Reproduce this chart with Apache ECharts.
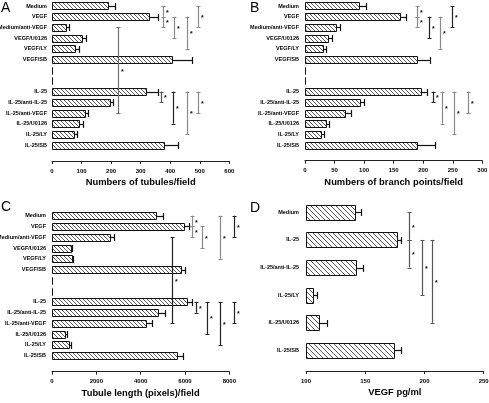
<!DOCTYPE html>
<html><head><meta charset="utf-8">
<script src="https://cdn.jsdelivr.net/npm/echarts@6/dist/echarts.min.js"></script>
<style>html,body{margin:0;padding:0;background:#fff}#c{width:489px;height:403px}</style>
</head><body><div id="c"></div>
<script>
// ---------- data ----------
const categoriesABC = ['Medium','VEGF','Medium/anti-VEGF','VEGF/U0126','VEGF/LY','VEGF/SB',' ','  ','IL-25','IL-25/anti-IL-25','IL-25/anti-VEGF','IL-25/U0126','IL-25/LY','IL-25/SB'];
const tubulesMean = [190, 327, 46, 100, 78, 407, 0, 0, 317, 195, 110, 92, 76, 378];
const tubulesSem  = [24, 32, 13, 15, 12, 66, 0, 0, 42, 13, 13, 13, 10, 49];
const branchMean  = [92, 161, 52, 39, 31, 190, 0, 0, 196, 93, 67, 36, 27, 189];
const branchSem   = [11, 10, 8, 7, 4, 21, 0, 0, 10, 7, 11, 5, 5, 31];
const lengthMean  = [4710, 5950, 2630, 840, 890, 5800, 0, 0, 6080, 4800, 4226, 590, 767, 5656];
const lengthSem   = [300, 240, 170, 75, 75, 210, 0, 0, 240, 315, 270, 100, 75, 257];
const categoriesD = ['Medium','IL-25','IL-25/anti-IL-25','IL-25/LY','IL-25/U0126','IL-25/SB'];
const vegfMean    = [141, 176.5, 142, 106.3, 111.2, 174.3];
const vegfSem     = [5.5, 3.3, 5.7, 3.2, 6.2, 5.5];

const ticksA = [0, 100, 200, 300, 400, 500, 600];
const ticksB = [0, 50, 100, 150, 200, 250, 300];
const ticksC = [0, 2000, 4000, 6000, 8000];
const ticksD = [100, 150, 200, 250];

// significance brackets: [x value, from category index, to category index]
const bracketsA = [[375,0,1],[375,1,2],[412,1,3],[457,1,4],[494,0,2],[222,2,10],[370,8,9],[408,8,11],[456,8,12],[494,8,10]];
const bracketsB = [[190,0,1],[190,1,2],[210,1,3],[228,1,4],[248,0,2],[216.6,8,9],[232,8,11],[251.6,8,12],[276,8,10]];
const bracketsC = [[6333,0,1],[6333,1,2],[6754,1,3],[7581,0,4],[8198,0,2],[5400,2,10],[6498,8,9],[7009,8,11],[7567,8,12],[8198,8,10]];
const bracketsD = [[187.2,0,1],[187.2,1,2],[197.9,1,3],[206.6,1,4]];
// bracket tones (styles kept apart from values)
const G = '#8a8a8a', K = '#222';
const bracketToneA = [G,G,G,G,G,'#707070','#555',K,G,G];
const bracketToneB = [G,G,K,G,K,K,G,G,G];
const bracketToneC = [G,G,G,G,K,K,K,K,K,K];
const bracketToneD = ['#555','#555','#555','#555'];

// ---------- rendering ----------
const FONT_N = '"Liberation Sans Narrow","Arial Narrow","Liberation Sans",Arial,sans-serif';
const FONT = '"Liberation Sans",Arial,sans-serif';

function hatch(n){
  const c = document.createElement('canvas'); c.width = n; c.height = n;
  const g = c.getContext('2d');
  g.fillStyle = '#fff'; g.fillRect(0,0,n,n);
  g.strokeStyle = '#444'; g.lineWidth = 0.9;
  g.beginPath();
  for (const k of [-n, 0, n]) { g.moveTo(k-1, -1); g.lineTo(k+n+1, n+1); }
  g.stroke();
  return c;
}
const patSmall = {image: hatch(4), repeat: 'repeat', repetition: 'repeat'};
const patLarge = {image: hatch(5), repeat: 'repeat', repetition: 'repeat'};

const panels = [
  {grid:{left:52, top:0.65, width:177.3, height:149.8}, offset:10.5, ticks:ticksA, cats:categoriesABC,
   mean:tubulesMean, sem:tubulesSem, base:0, ratio:0.63, brackets:bracketsA, tones:bracketToneA,
   title:'Numbers of tubules/field', margin:5, pat:patSmall},
  {grid:{left:305, top:0.65, width:177.3, height:149.8}, offset:10.2, ticks:ticksB, cats:categoriesABC,
   mean:branchMean, sem:branchSem, base:0, ratio:0.63, brackets:bracketsB, tones:bracketToneB,
   title:'Numbers of branch points/field', margin:6, pat:patSmall},
  {grid:{left:52, top:210.3, width:177.3, height:150.8}, offset:10.6, ticks:ticksC, cats:categoriesABC,
   mean:lengthMean, sem:lengthSem, base:0, ratio:0.65, brackets:bracketsC, tones:bracketToneC,
   title:'Tubule length (pixels)/field', margin:6, pat:patSmall},
  {grid:{left:306, top:198.5, width:177.7, height:165.6}, offset:6.9, ticks:ticksD, cats:categoriesD,
   mean:vegfMean, sem:vegfSem, base:100, ratio:0.55, brackets:bracketsD, tones:bracketToneD,
   title:'VEGF pg/ml', margin:7, pat:patLarge}
];

function px(v){ return Math.round(v) + 0.5; }

function barRenderer(p){
  return function(params, api){
    const v = api.value(0), e = api.value(1), k = api.value(2);
    const c0 = api.coord([p.base, k]), c1 = api.coord([v, k]), c2 = api.coord([v + e, k]);
    const band = api.size([0, 1])[1];
    const h = Math.round(band * p.ratio);
    const yc = c1[1];
    const top = px(yc - h / 2);
    const x0 = px(c0[0]), x1 = px(c1[0]);
    const children = [{type:'rect', shape:{x:x0, y:top, width:x1 - x0, height:h},
      style:{fill:p.pat, stroke:'#111', lineWidth:1}}];
    if (e > 0) {
      const xe = px(c2[0]), ym = px(yc), ch = Math.min(h, 7);
      children.push({type:'line', shape:{x1:x1, y1:ym, x2:xe, y2:ym}, style:{stroke:'#111', lineWidth:1.2}});
      children.push({type:'line', shape:{x1:xe, y1:ym - ch/2, x2:xe, y2:ym + ch/2}, style:{stroke:'#111', lineWidth:1.2}});
    }
    return {type:'group', children};
  };
}

function bracketRenderer(p){
  return function(params, api){
    const x = api.value(0), a = api.value(1), b = api.value(2), idx = api.value(3);
    const pa = api.coord([x, a]), pb = api.coord([x, b]);
    const col = p.tones[idx];
    const xx = px(pa[0]), y1 = pa[1], y2 = pb[1];
    const w = 2;
    return {type:'group', children:[
      {type:'line', shape:{x1:xx, y1:y1, x2:xx, y2:y2}, style:{stroke:col, lineWidth:1.2}},
      {type:'line', shape:{x1:xx - w, y1:px(y1), x2:xx + w, y2:px(y1)}, style:{stroke:col, lineWidth:1}},
      {type:'line', shape:{x1:xx - w, y1:px(y2), x2:xx + w, y2:px(y2)}, style:{stroke:col, lineWidth:1}},
      {type:'text', x:xx + 2.5, y:(y1 + y2) / 2 + 1.5, style:{text:'*', fontSize:7, fontWeight:'bold',
        fontFamily:FONT, fill:'#111', align:'left', verticalAlign:'middle'}}
    ]};
  };
}

const option = {
  animation: false,
  backgroundColor: '#fff',
  grid: panels.map(p => Object.assign({containLabel:false, outerBoundsMode:'none'}, p.grid)),
  xAxis: panels.map((p, i) => ({
    type:'value', gridIndex:i, min:p.ticks[0], max:p.ticks[p.ticks.length - 1],
    interval:p.ticks[1] - p.ticks[0], offset:p.offset,
    axisLine:{show:true, onZero:false, lineStyle:{color:'#222', width:1}},
    axisTick:{show:true, length:3, lineStyle:{color:'#222'}},
    axisLabel:{fontSize:6, fontWeight:'bold', fontFamily:FONT_N, color:'#000', margin:7,
      formatter: v => String(v)},
    splitLine:{show:false},
    name:p.title, nameLocation:'middle', nameGap:17,
    nameTextStyle:{fontSize:9.4, fontWeight:'bold', fontFamily:FONT, color:'#000'}
  })),
  yAxis: panels.map((p, i) => ({
    type:'category', gridIndex:i, data:p.cats, inverse:true,
    axisLine:{show:false}, axisTick:{show:false}, splitLine:{show:false},
    axisLabel:{fontSize:5.5, fontWeight:'bold', fontFamily:FONT_N, color:'#000', margin:p.margin, interval:0}
  })),
  series: [].concat(...panels.map((p, i) => [
    {type:'custom', xAxisIndex:i, yAxisIndex:i, clip:false, renderItem:barRenderer(p),
     encode:{x:0, y:2}, data:p.mean.map((v, k) => [v, p.sem[k], k])},
    {type:'custom', xAxisIndex:i, yAxisIndex:i, clip:false, renderItem:bracketRenderer(p),
     encode:{x:0, y:1}, data:p.brackets.map((b, k) => [b[0], b[1], b[2], k])}
  ])),
  graphic: [
    {type:'text', left:1, top:1, style:{text:'A', fontSize:14, fontFamily:FONT, fill:'#000'}},
    {type:'text', left:250, top:1, style:{text:'B', fontSize:14, fontFamily:FONT, fill:'#000'}},
    {type:'text', left:1, top:200.5, style:{text:'C', fontSize:14, fontFamily:FONT, fill:'#000'}},
    {type:'text', left:250, top:201, style:{text:'D', fontSize:14, fontFamily:FONT, fill:'#000'}}
  ]
};

const chart = echarts.init(document.getElementById('c'), null, {renderer:'canvas'});
chart.setOption(option);
</script>
</body></html>
